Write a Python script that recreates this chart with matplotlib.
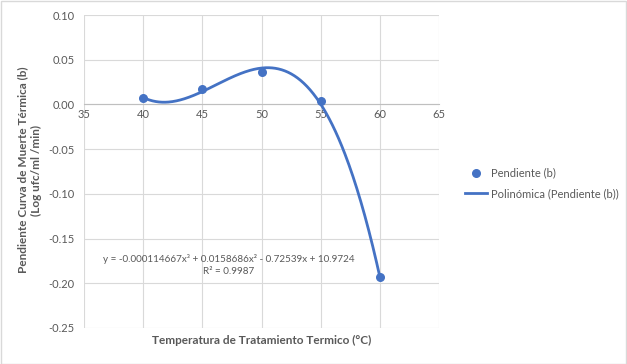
import numpy as np
import matplotlib
matplotlib.use("Agg")
import matplotlib.pyplot as plt

temps = [40, 45, 50, 55, 60]
slopes = [0.007, 0.0175, 0.036, 0.0035, -0.1935]
x_ticks = [35, 40, 45, 50, 55, 60, 65]
y_ticks = [-0.25, -0.20, -0.15, -0.10, -0.05, 0.00, 0.05, 0.10]
eq_text = "y = -0.000114667x³ + 0.0158686x² - 0.72539x + 10.9724\nR² = 0.9987"
series_name = "Pendiente (b)"
trend_name = "Polinómica (Pendiente (b))"
xlabel = "Temperatura de Tratamiento Termico (°C)"
ylabel = "Pendiente Curva de Muerte Térmica (b)\n(Log ufc/ml /min)"

plt.rcParams['font.family'] = ['Lato', 'DejaVu Sans']
W, H = 627, 364
fig = plt.figure(figsize=(W / 100, H / 100), dpi=100)
ax = fig.add_axes([84 / W, 1 - 328 / H, (439 - 84) / W, (328 - 15) / H])

blue = "#4472C4"
gray = "#595959"
grid = "#D9D9D9"

coef = np.polyfit(temps, slopes, 3)
xs = np.linspace(min(temps), max(temps), 300)
ax.plot(xs, np.polyval(coef, xs), color=blue, lw=2, label=trend_name, zorder=3)
ax.scatter(temps, slopes, s=30, color=blue, label=series_name, zorder=4)

ax.set_xlim(35, 65)
ax.set_ylim(-0.25, 0.10)
ax.set_xticks(x_ticks)
ax.set_yticks(y_ticks)
ax.set_yticklabels([f"{v:.2f}" for v in y_ticks])
ax.grid(True, color=grid, lw=0.8)
ax.set_axisbelow(True)
for s in ['top', 'right', 'left']:
    ax.spines[s].set_visible(False)
ax.spines['bottom'].set_position(('data', 0))
ax.spines['bottom'].set_color("#BFBFBF")
ax.tick_params(length=0, colors=gray, labelsize=8)
ax.tick_params(axis='x', pad=3)
ax.tick_params(axis='y', pad=7)

ax.text(47.25, -0.1795, eq_text, ha='center', va='center', fontsize=7.1,
        color=gray, linespacing=1.45)

fig.text(262 / W, 1 - 340 / H, xlabel, ha='center', va='center',
         fontsize=8.5, fontweight='bold', color=gray)
fig.text(30 / W, 1 - 170 / H, ylabel, ha='center', va='center', rotation=90,
         fontsize=8.5, fontweight='bold', color=gray, linespacing=1.3)

handles, labels = ax.get_legend_handles_labels()
order = [1, 0]
leg = fig.legend([handles[i] for i in order], [labels[i] for i in order],
                 loc='upper left', bbox_to_anchor=(455 / W, 1 - 157 / H),
                 frameon=False, fontsize=8, labelcolor=gray,
                 handlelength=2.0, handletextpad=0.3, labelspacing=0.9)

fig.patches.append(plt.Rectangle((0.5 / W, 0.5 / H), 1 - 1.5 / W, 1 - 1.5 / H,
                                 transform=fig.transFigure, fill=False,
                                 edgecolor="#D9D9D9", lw=1))
fig.savefig("out.png", dpi=100)
